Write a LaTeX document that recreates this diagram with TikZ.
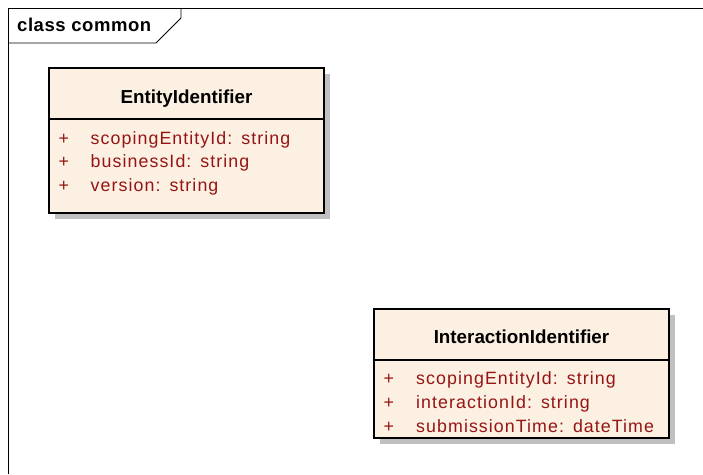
\documentclass[tikz,border=0pt]{standalone}
\usepackage{fontspec}
\setmainfont{Liberation Sans}
\newfontfamily\attrfont[LetterSpace=6]{Liberation Sans}
\newfontfamily\titlefont[LetterSpace=0]{Liberation Sans}
\newfontfamily\framefont[LetterSpace=3]{Liberation Sans}
\definecolor{boxfill}{RGB}{251,240,225}
\definecolor{attrred}{RGB}{150,20,20}
\definecolor{shadowgray}{RGB}{192,192,192}
\newcommand{\colsp}{\ \hspace{3pt}}
\tikzset{
  classbox/.style={draw=black, line width=1.4pt, fill=boxfill, inner sep=0pt},
  titletext/.style={anchor=base, inner sep=0pt, font=\titlefont\fontsize{18.8}{20}\selectfont\bfseries},
  attrtext/.style={anchor=base west, inner sep=0pt, text=attrred, font=\attrfont\fontsize{17.8}{19}\selectfont},
  frametext/.style={anchor=base west, inner sep=0pt, font=\framefont\fontsize{18.5}{20}\selectfont\bfseries},
  frameline/.style={draw=black, line width=0.9pt}
}
\begin{document}
\begin{tikzpicture}[x=1pt,y=-1pt]
\useasboundingbox (0,0) rectangle (703,474);
% frame
\coordinate (ftl) at (8,8);
\coordinate (ftr) at (703,8);
\coordinate (fbl) at (8,474);
\coordinate (tabb) at (156,43);
\coordinate (tabl) at (8,43);
\coordinate (tabd) at (181,18);
\coordinate (tabt) at (181,8);
\draw[frameline] (fbl) -- (ftl) -- (ftr);
\draw[frameline] (tabl) -- (tabb) -- (tabd) -- (tabt);
\node[frametext] (frametitle) at (17,31) {class common};
% EntityIdentifier
\fill[shadowgray] (55,74) rectangle (330,219);
\node[classbox, minimum width=275pt, minimum height=145pt] (ent) at (186.5,140.5) {};
\coordinate (entdl) at (49,119);
\coordinate (entdr) at (324,119);
\draw[line width=1.4pt] (entdl) -- (entdr);
\node[titletext] (enttitle) at (186.5,103) {EntityIdentifier};
\node[attrtext] (ep1) at (58.5,144) {+};
\node[attrtext] (ea1) at (90.5,144) {scopingEntityId:\colsp string};
\node[attrtext] (ep2) at (58.5,167.5) {+};
\node[attrtext] (ea2) at (90.5,167.5) {businessId:\colsp string};
\node[attrtext] (ep3) at (58.5,191) {+};
\node[attrtext] (ea3) at (90.5,191) {version:\colsp string};
% InteractionIdentifier
\fill[shadowgray] (380,315) rectangle (675,444);
\node[classbox, minimum width=295pt, minimum height=129pt] (int) at (521.5,373.5) {};
\coordinate (intdl) at (374,360);
\coordinate (intdr) at (669,360);
\draw[line width=1.4pt] (intdl) -- (intdr);
\node[titletext] (inttitle) at (521.5,343.5) {InteractionIdentifier};
\node[attrtext] (ip1) at (383.5,384.5) {+};
\node[attrtext] (ia1) at (416,384.5) {scopingEntityId:\colsp string};
\node[attrtext] (ip2) at (383.5,408.5) {+};
\node[attrtext] (ia2) at (416,408.5) {interactionId:\colsp string};
\node[attrtext] (ip3) at (383.5,432.5) {+};
\node[attrtext] (ia3) at (416,432.5) {submissionTime:\colsp dateTime};
\end{tikzpicture}
\end{document}
